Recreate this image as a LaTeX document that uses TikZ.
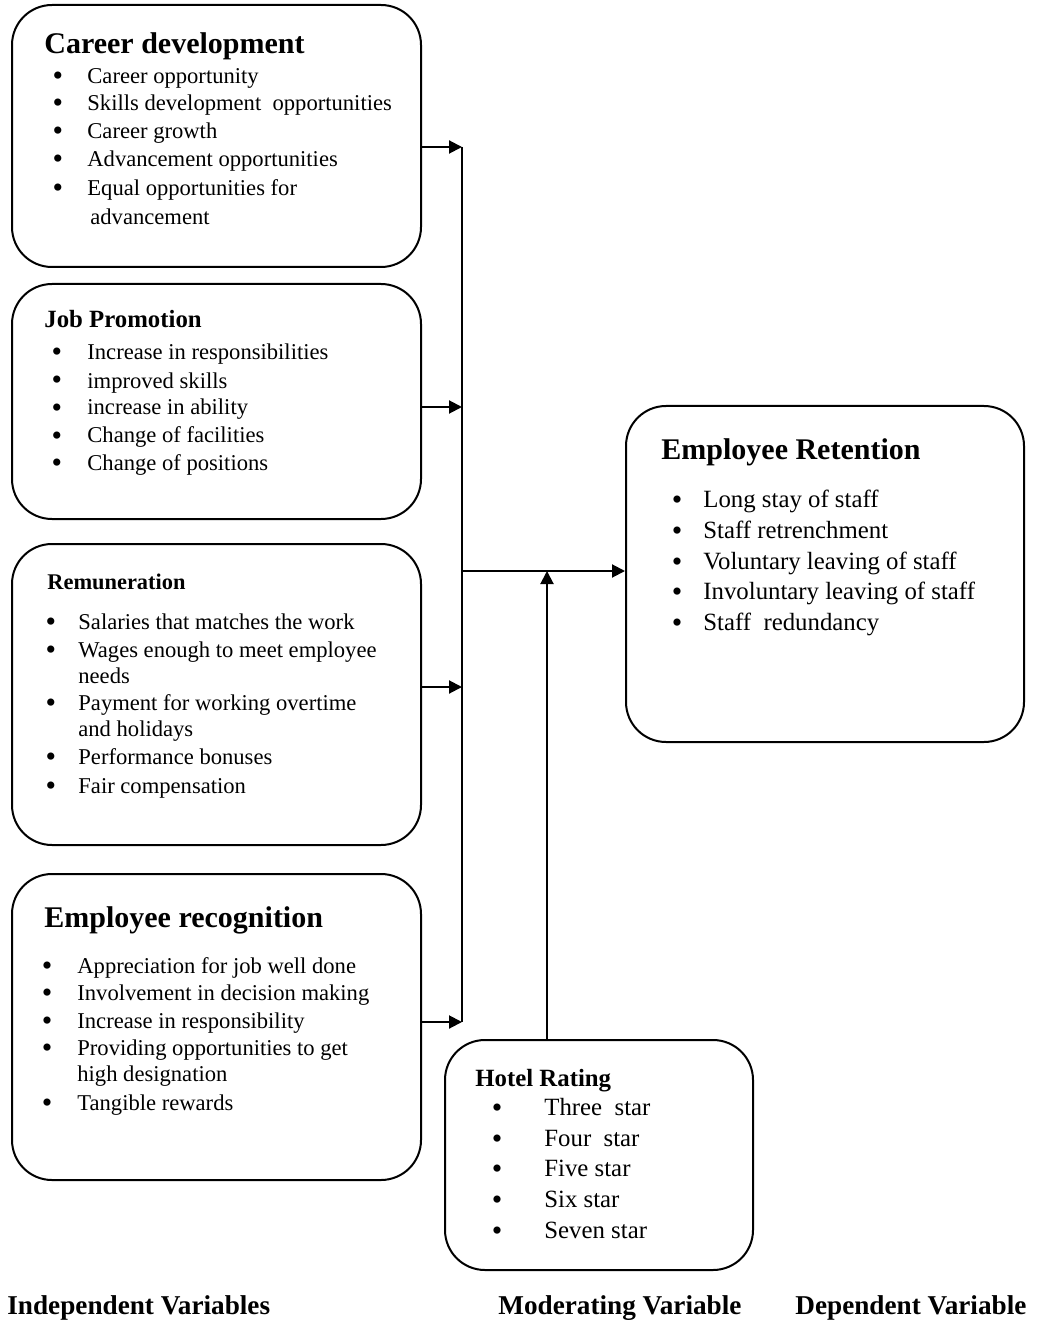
\documentclass[tikz,border=0pt]{standalone}
\usepackage{fontspec}
\setmainfont{Liberation Serif}
\usetikzlibrary{arrows.meta, fit}
\tikzset{
  box/.style={rectangle, rounded corners=20pt, draw, line width=1pt, inner sep=0pt},
  arrow/.style={-{Triangle[length=6.5pt, width=6.5pt]}, line width=1pt},
  item/.style={anchor=base west, inner sep=0pt, font=\fontsize{11.3}{13}\selectfont},
  bul/.style={anchor=base, inner sep=0pt, yshift=-1pt, font=\fontsize{15}{15}\selectfont},
  head/.style={anchor=base west, inner sep=0pt, font=\fontsize{15}{18}\selectfont\bfseries},
  subhead/.style={head, font=\fontsize{12.4}{15}\selectfont\bfseries},
  bigitem/.style={item, font=\fontsize{12.4}{15}\selectfont},
  caption/.style={head, font=\fontsize{13.6}{16}\selectfont\bfseries},
}

\begin{document}
\begin{tikzpicture}[x=0.5pt, y=-0.5pt]
        \useasboundingbox (0,0) rectangle (1037,1320);

        \node[box, fit={(12,5) (421,267)}] (career) {};
        \node[box, fit={(12,284) (421,519)}] (promo) {};
        \node[box, fit={(12,544) (421,845)}] (remun) {};
        \node[box, fit={(12,874) (421,1180)}] (recog) {};
        \node[box, fit={(626,406) (1024,742)}] (retention) {};
        \node[box, fit={(445,1040) (753,1270)}] (hotel) {};

        % career development
        \node[head] (career-title) at (44,54) {Career development};
        \foreach \y/\t in {84/Career opportunity, 111/Skills development~ opportunities,
            139/Career growth, 167/Advancement opportunities, 196/Equal opportunities for}{
          \node[bul] (cd-b\y) at (58,\y) {\textbullet};
          \node[item] (cd-\y) at (87,\y) {\t};
        }
        \node[item] (cd-225) at (90,225) {advancement};

        % job promotion
        \node[subhead] (promo-title) at (44,328) {Job Promotion};
        \foreach \y/\t in {360/Increase in responsibilities, 388/improved skills,
            415/increase in ability, 443/Change of facilities, 470/Change of positions}{
          \node[bul] (jp-b\y) at (57,\y) {\textbullet};
          \node[item] (jp-\y) at (87,\y) {\t};
        }

        % remuneration
        \node[head, font=\fontsize{11.2}{13}\selectfont\bfseries] (remun-title) at (47,589) {Remuneration};
        \foreach \y in {629,657,710,764,793}
          \node[bul] (rm-b\y) at (51,\y) {\textbullet};
        \foreach \y/\t in {629/Salaries that matches the work, 657/Wages enough to meet employee,
            683/needs, 710/Payment for working overtime, 736/and holidays,
            764/Performance bonuses, 793/Fair compensation}
          \node[item] (rm-\y) at (78,\y) {\t};

        % employee recognition
        \node[head] (recog-title) at (44,927) {Employee recognition};
        \foreach \y in {973,1000,1028,1055,1110}
          \node[bul] (er-b\y) at (47,\y) {\textbullet};
        \foreach \y/\t in {973/Appreciation for job well done, 1000/Involvement in decision making,
            1028/Increase in responsibility, 1055/Providing opportunities to get,
            1081/high designation, 1110/Tangible rewards}
          \node[item] (er-\y) at (77,\y) {\t};

        % employee retention
        \node[head] (retention-title) at (661,459) {Employee Retention};
        \foreach \y/\t in {507/Long stay of staff, 538/Staff retrenchment,
            569/Voluntary leaving of staff, 599/Involuntary leaving of staff, 630/Staff~ redundancy}{
          \node[bul] (rt-b\y) at (677,\y) {\textbullet};
          \node[bigitem] (rt-\y) at (703,\y) {\t};
        }

        % hotel rating
        \node[subhead] (hotel-title) at (475,1086) {Hotel Rating};
        \foreach \y/\t in {1115/Three~ star, 1146/Four~ star, 1176/Five star,
            1207/Six star, 1238/Seven star}{
          \node[bul] (hr-b\y) at (497,\y) {\textbullet};
          \node[bigitem] (hr-\y) at (544,\y) {\t};
        }

        \node[caption] (indep) at (7,1314) {Independent Variables};
        \node[caption] (moder) at (498,1314) {Moderating Variable};
        \node[caption] (dep) at (795,1314) {Dependent Variable};

        \coordinate (j1) at (462,147);
        \coordinate (j2) at (462,407);
        \coordinate (j3) at (462,687);
        \coordinate (j4) at (462,1022);
        \coordinate (hub) at (462,571);
        \coordinate (mod) at (547,571);

        \draw[arrow] (career.east |- j1) -- (j1);
        \draw[arrow] (promo.east |- j2) -- (j2);
        \draw[arrow] (remun.east |- j3) -- (j3);
        \draw[arrow] (recog.east |- j4) -- (j4);
        \draw[line width=1pt] (j1) -- (j4);
        \draw[arrow] (hub) -- (retention.west |- hub);
        \draw[arrow] (hotel.north -| mod) -- (mod);
      \end{tikzpicture}
\end{document}
